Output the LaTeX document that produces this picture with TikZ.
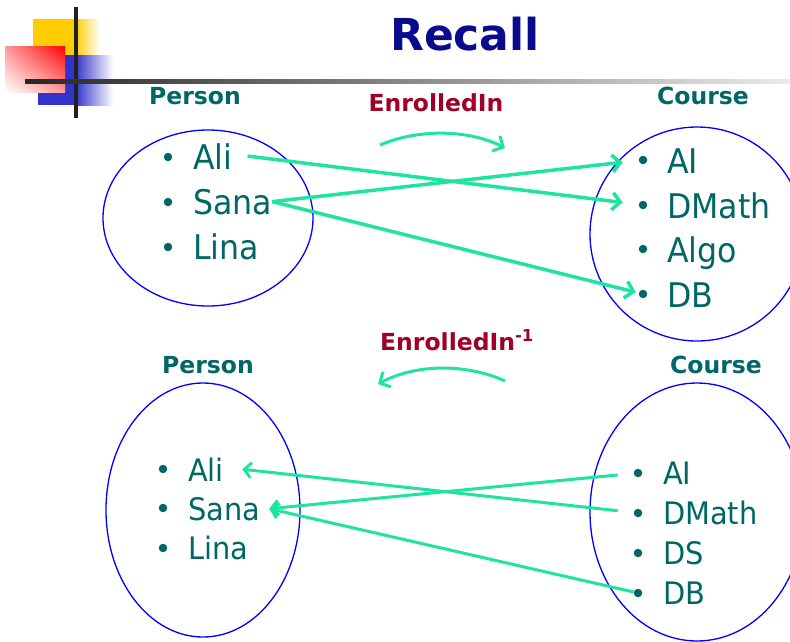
\documentclass[tikz,border=0pt]{standalone}
\usepackage{fontspec}
\setmainfont{DejaVu Sans}
\newfontfamily\itemfont[FakeStretch=0.93]{DejaVu Sans}
\usetikzlibrary{arrows.meta, positioning, shadings}

\definecolor{itemteal}{RGB}{0,102,102}
\definecolor{relred}{RGB}{160,0,40}
\definecolor{titleblue}{RGB}{10,10,140}
\definecolor{linkgreen}{RGB}{30,228,160}
\definecolor{ovalblue}{RGB}{0,0,255}
\definecolor{decoyellow}{RGB}{255,204,0}
\definecolor{decoblue}{RGB}{51,51,204}

\tikzset{
    setlabel/.style={font=\bfseries\fontsize{23.5}{26}\selectfont, text=itemteal},
    rellabel/.style={font=\bfseries\fontsize{23.5}{26}\selectfont, text=relred},
    bigitem/.style={font=\itemfont\fontsize{34}{36}\selectfont, text=itemteal, inner sep=0pt, anchor=base west},
    smallitem/.style={font=\itemfont\fontsize{31}{33}\selectfont, text=itemteal, inner sep=0pt, anchor=base west},
    dot/.style={circle, fill=itemteal, inner sep=0pt, minimum size=8.5pt},
    setoval/.style={draw=ovalblue, line width=1.3pt},
    link/.style={draw=linkgreen, line width=3.5pt, -{Straight Barb[length=8pt, width=17pt]}},
    backlink/.style={draw=linkgreen, line width=3pt, -{Straight Barb[length=7pt, width=15pt]}},
}

\begin{document}
\begin{tikzpicture}[x=1pt, y=-1pt]
    \useasboundingbox (0,0) rectangle (790,641);
    %
    % corner decoration
    \fill[decoyellow] (33,19) rectangle (75,55);
    \shade[left color=decoyellow, right color=white] (75,19) rectangle (100,55);
    \fill[decoblue] (38,55) rectangle (75,105);
    \shade[left color=decoblue, right color=white] (75,55) rectangle (113,105);
    \shade[upper left=red!40, upper right=red, lower left=white, lower right=red!40] (5,46) rectangle (65,92);
    \fill[black!87] (74,7) rectangle (78,118);
    \shade[left color=black!85, right color=black!8] (25,79) rectangle (790,83);
    %
    \node[font=\bfseries\fontsize{44}{48}\selectfont, text=titleblue] (recall) at (465,34) {Recall};
    %
    % EnrolledIn
    \node[setlabel] (personA) at (195,96) {Person};
    \node[setlabel] (courseA) at (703,96) {Course};
    \node[rellabel] (enrolled) at (436,103) {EnrolledIn};
    \coordinate (fwdA) at (380,145);
    \coordinate (fwdB) at (505,148);
    \draw[link, line width=3pt] (fwdA) .. controls (420,128) and (470,130) .. (fwdB);
    %
    \draw[setoval] (208,218) ellipse [x radius=105pt, y radius=88pt];
    \draw[setoval] (697,234) ellipse [x radius=107pt, y radius=107pt];
    %
    \node[dot] (bAliA) at (168,157) {};
    \node[dot] (bSanaA) at (168,202) {};
    \node[dot] (bLinaA) at (168,247) {};
    \node[bigitem] (aliA) at (193,169) {Ali};
    \node[bigitem] (sanaA) at (193,214) {Sana};
    \node[bigitem] (linaA) at (193,259) {Lina};
    %
    \node[dot] (bAIA) at (643,160) {};
    \node[dot] (bDMathA) at (643,205) {};
    \node[dot] (bAlgoA) at (643,249) {};
    \node[dot] (bDBA) at (643,294) {};
    \node[bigitem] (aiA) at (667,173) {AI};
    \node[bigitem] (dmathA) at (667,218) {DMath};
    \node[bigitem] (algoA) at (667,262) {Algo};
    \node[bigitem] (dbA) at (667,307) {DB};
    %
    \draw[link, shorten >=16pt] ([xshift=15pt]aliA.east) -- (bDMathA);
    \draw[link, shorten >=16pt] (sanaA.east) -- (bAIA);
    \draw[link, shorten >=3pt] (sanaA.east) -- (bDBA);
    %
    % EnrolledIn^-1
    \node[setlabel] (personB) at (208,365) {Person};
    \node[setlabel] (courseB) at (716,365) {Course};
    \node[rellabel] (inverse) at (457,340) {EnrolledIn\textsuperscript{-1}};
    \coordinate (invA) at (505,381);
    \coordinate (invB) at (378,384);
    \draw[link, line width=3pt] (invA) .. controls (470,365) and (420,362) .. (invB);
    %
    \draw[setoval] (203,510) ellipse [x radius=97pt, y radius=127pt];
    \draw[setoval] (697,512) ellipse [x radius=107pt, y radius=129pt];
    %
    \node[dot] (bAliB) at (163,469) {};
    \node[dot] (bSanaB) at (163,508) {};
    \node[dot] (bLinaB) at (163,548) {};
    \node[smallitem] (aliB) at (188,481) {Ali};
    \node[smallitem] (sanaB) at (188,520) {Sana};
    \node[smallitem] (linaB) at (188,559) {Lina};
    %
    \node[dot] (bAIB) at (638,473) {};
    \node[dot] (bDMathB) at (638,513) {};
    \node[dot] (bDSB) at (638,553) {};
    \node[dot] (bDBB) at (638,593) {};
    \node[smallitem] (aiB) at (663,484) {AI};
    \node[smallitem] (dmathB) at (663,524) {DMath};
    \node[smallitem] (dsB) at (663,564) {DS};
    \node[smallitem] (dbB) at (663,604) {DB};
    %
    \draw[backlink, shorten <=16pt] (bAIB) -- ([xshift=9pt]sanaB.east);
    \draw[backlink, shorten <=16pt] (bDMathB) -- ([xshift=18pt]aliB.east);
    \draw[backlink] (bDBB) -- ([xshift=9pt]sanaB.east);
\end{tikzpicture}
\end{document}
